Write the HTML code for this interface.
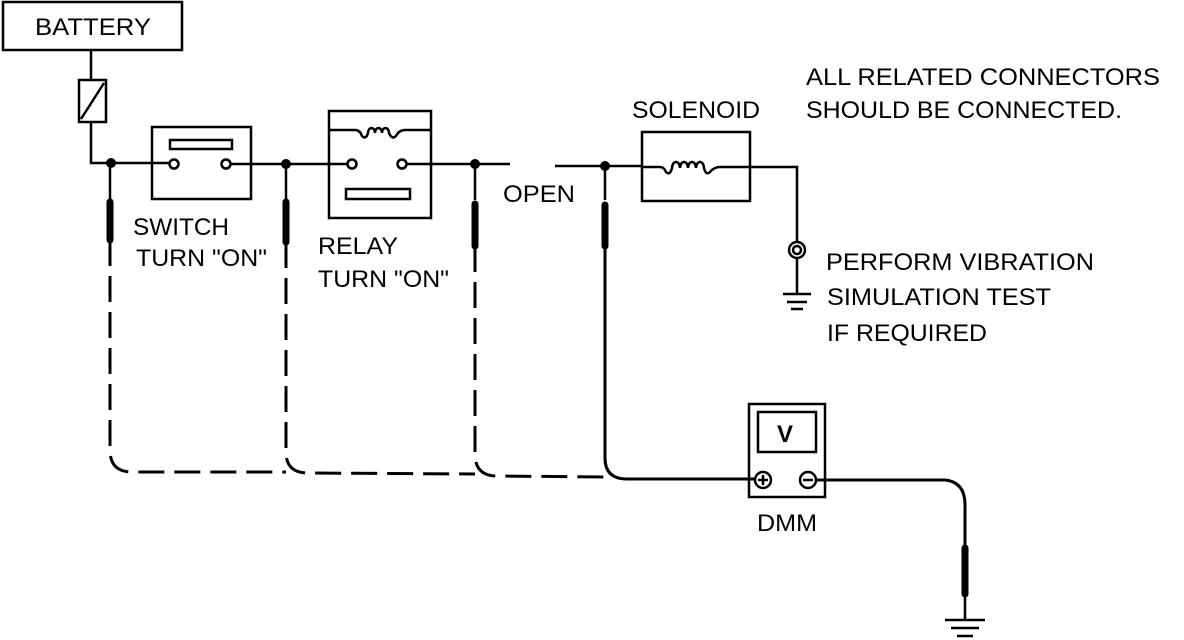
<!DOCTYPE html>
<html><head><style>
html,body{margin:0;padding:0;background:#fff;}
svg{display:block;}
text{font-family:"Liberation Sans",sans-serif;font-size:24px;fill:#000;}
</style></head><body>
<svg width="1184" height="640" viewBox="0 0 1184 640" xmlns="http://www.w3.org/2000/svg">
<g fill="none" stroke="#000" stroke-width="2.5">
<!-- battery -->
<rect x="3" y="2" width="179" height="48"/>
<line x1="91" y1="50" x2="91" y2="80"/>
<rect x="79" y="80" width="27" height="42"/>
<line x1="81" y1="119" x2="104" y2="83"/>
<polyline points="91,122 91,163 170,163"/>
<!-- switch -->
<rect x="152" y="127" width="99" height="72"/>
<rect x="170" y="140" width="62" height="9"/>
<circle cx="174" cy="164" r="4.5"/>
<circle cx="226" cy="164" r="4.5"/>
<line x1="231" y1="164" x2="348" y2="164"/>
<!-- relay -->
<rect x="329" y="111" width="102" height="107"/>
<path d="M329,130 L355,130 Q360,130 362,136 Q366,140 368,133 a3.5,5 0 1 1 7,0 a3.5,5 0 1 1 7,0 a3.5,5 0 1 1 7,0 Q392,140 396,136 Q399,130 405,130 L431,130"/>
<circle cx="352" cy="164" r="4.5"/>
<circle cx="402" cy="164" r="4.5"/>
<rect x="346" y="189" width="64" height="10"/>
<line x1="407" y1="164" x2="510" y2="164"/>
<!-- open / solenoid -->
<line x1="555" y1="166" x2="642" y2="166"/>
<rect x="642" y="132" width="108" height="69"/>
<path d="M642,167 L660,167 Q664,167 666,172 Q670,176 672,168 a4,6 0 1 1 8,0 a4,6 0 1 1 8,0 a4,6 0 1 1 8,0 a4,6 0 1 1 8,0 Q706,176 710,172 Q714,167 720,167 L797,167 L797,242"/>
<circle cx="797" cy="250" r="8"/>
<circle cx="797" cy="250" r="4"/>
<line x1="797" y1="258" x2="797" y2="294"/>
<line x1="783" y1="294" x2="811" y2="294"/>
<line x1="787" y1="302" x2="807" y2="302"/>
<line x1="791" y1="309" x2="803" y2="309"/>
<line x1="110" y1="164" x2="110" y2="200"/>
<line x1="286" y1="164" x2="286" y2="200"/>
<line x1="475" y1="164" x2="475" y2="200"/>
<line x1="605" y1="166" x2="605" y2="200"/>
</g>
<g stroke="#000" stroke-width="7" stroke-linecap="round">
<line x1="110" y1="202" x2="110" y2="240"/>
<line x1="286" y1="202" x2="286" y2="242"/>
<line x1="475" y1="204" x2="475" y2="246"/>
<line x1="605" y1="205" x2="605" y2="246"/>
<line x1="965" y1="548" x2="965" y2="594"/>
</g>
<g fill="#000">
<circle cx="111" cy="163" r="5"/><circle cx="286" cy="164" r="5"/>
<circle cx="475" cy="164" r="5"/><circle cx="605" cy="166" r="5"/>
</g>
<g fill="none" stroke="#000" stroke-width="3">
<path d="M110,240 L110,450 Q110,472 132,472 L286,472" stroke-dasharray="26,10"/>
<path d="M286,242 L286,452 Q286,473 308,473 L475,474" stroke-dasharray="26,10"/>
<path d="M475,246 L475,454 Q475,476 497,476 L605,477" stroke-dasharray="26,10"/>
<path d="M605,246 L605,458 Q605,479 627,479 L756,479"/>
<path d="M815,480 L945,480 Q965,482 965,505 L965,548"/>
</g>
<g fill="none" stroke="#000" stroke-width="2.5">
<line x1="965" y1="594" x2="965" y2="620"/>
<line x1="945" y1="620" x2="985" y2="620"/>
<line x1="951" y1="628" x2="979" y2="628"/>
<line x1="957" y1="636" x2="973" y2="636"/>
<rect x="749" y="404" width="76" height="93"/>
<rect x="758" y="412" width="58" height="40"/>
<circle cx="763" cy="480" r="8"/>
<line x1="758" y1="480" x2="768" y2="480"/><line x1="763" y1="475" x2="763" y2="485"/>
<circle cx="808" cy="480" r="8"/>
<line x1="803" y1="480" x2="813" y2="480"/>
</g>
<text x="35" y="35" textLength="116" lengthAdjust="spacingAndGlyphs">BATTERY</text>
<text x="806" y="85" textLength="354" lengthAdjust="spacingAndGlyphs">ALL RELATED CONNECTORS</text>
<text x="806" y="118" textLength="316" lengthAdjust="spacingAndGlyphs">SHOULD BE CONNECTED.</text>
<text x="632" y="118" textLength="128" lengthAdjust="spacingAndGlyphs">SOLENOID</text>
<text x="503" y="202" textLength="72" lengthAdjust="spacingAndGlyphs">OPEN</text>
<text x="133" y="235" textLength="96" lengthAdjust="spacingAndGlyphs">SWITCH</text>
<text x="136" y="266" textLength="131" lengthAdjust="spacingAndGlyphs">TURN "ON"</text>
<text x="318" y="254" textLength="80" lengthAdjust="spacingAndGlyphs">RELAY</text>
<text x="318" y="287" textLength="131" lengthAdjust="spacingAndGlyphs">TURN "ON"</text>
<text x="826" y="270" textLength="268" lengthAdjust="spacingAndGlyphs">PERFORM VIBRATION</text>
<text x="827" y="305" textLength="224" lengthAdjust="spacingAndGlyphs">SIMULATION TEST</text>
<text x="827" y="341" textLength="160" lengthAdjust="spacingAndGlyphs">IF REQUIRED</text>
<text x="757" y="531" textLength="60" lengthAdjust="spacingAndGlyphs">DMM</text>
<text x="777" y="442" style="font-weight:bold">V</text>
</svg>
</body></html>
